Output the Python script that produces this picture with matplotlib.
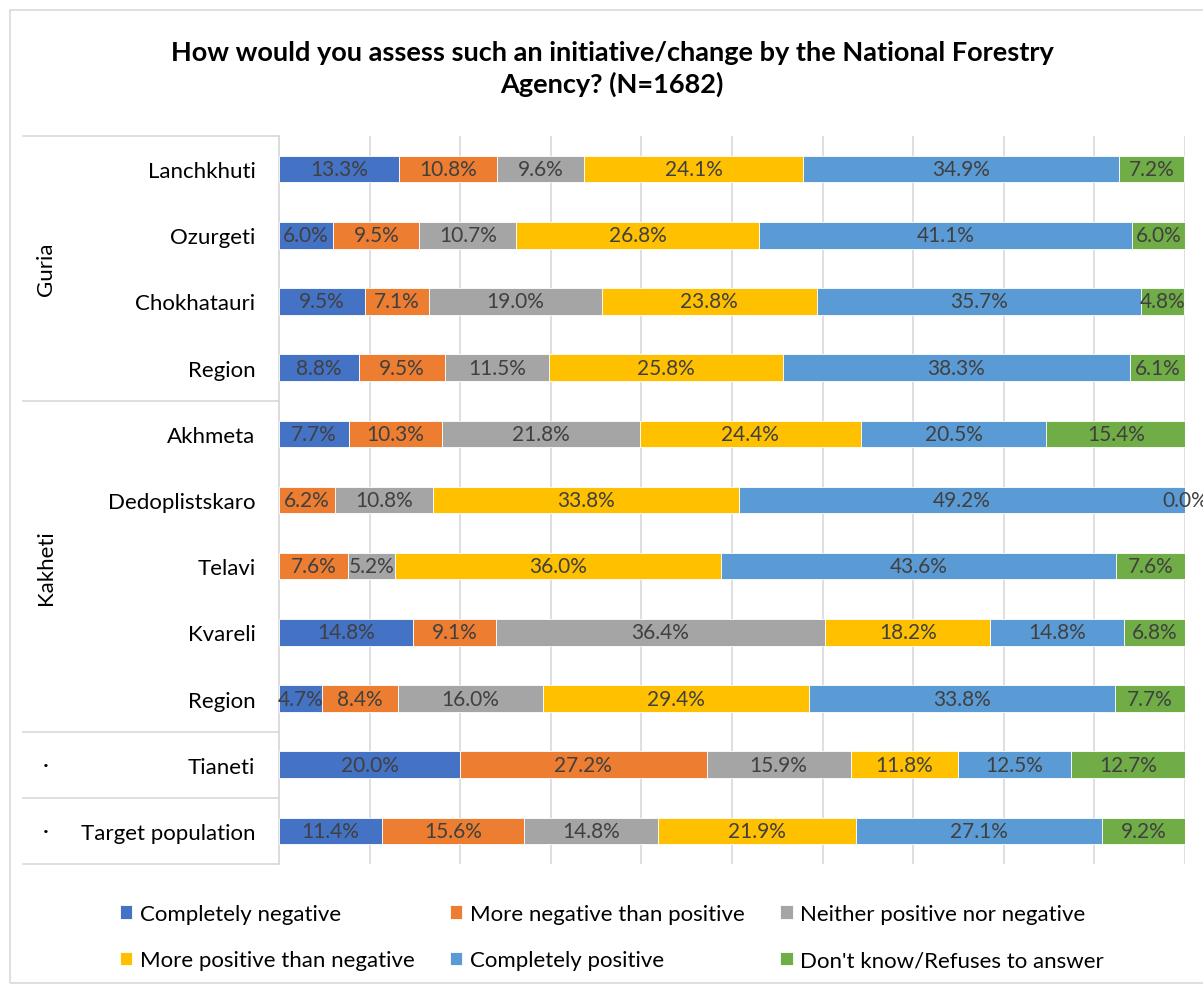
import matplotlib.pyplot as plt
from matplotlib.patches import Rectangle
import numpy as np

plt.rcParams['font.family'] = ['Lato', 'DejaVu Sans']

# categories (top to bottom)
places = ['Lanchkhuti', 'Ozurgeti', 'Chokhatauri', 'Region',
          'Akhmeta', 'Dedoplistskaro', 'Telavi', 'Kvareli', 'Region',
          'Tianeti', 'Target population']
groups = [('Guria', 0, 3), ('Kakheti', 4, 8), ('·', 9, 9), ('·', 10, 10)]

answers = ['Completely negative', 'More negative than positive',
           'Neither positive nor negative', 'More positive than negative',
           'Completely positive', "Don't know/Refuses to answer"]
colors = ['#4472C4', '#ED7D31', '#A5A5A5', '#FFC000', '#5B9BD5', '#70AD47']

# None = no value (no bar, no label)
completely_negative = [13.3, 6.0, 9.5, 8.8, 7.7, None, None, 14.8, 4.7, 20.0, 11.4]
more_negative = [10.8, 9.5, 7.1, 9.5, 10.3, 6.2, 7.6, 9.1, 8.4, 27.2, 15.6]
neither = [9.6, 10.7, 19.0, 11.5, 21.8, 10.8, 5.2, 36.4, 16.0, 15.9, 14.8]
more_positive = [24.1, 26.8, 23.8, 25.8, 24.4, 33.8, 36.0, 18.2, 29.4, 11.8, 21.9]
completely_positive = [34.9, 41.1, 35.7, 38.3, 20.5, 49.2, 43.6, 14.8, 33.8, 12.5, 27.1]
dont_know = [7.2, 6.0, 4.8, 6.1, 15.4, 0.0, 7.6, 6.8, 7.7, 12.7, 9.2]

series = [completely_negative, more_negative, neither,
          more_positive, completely_positive, dont_know]

fig = plt.figure(figsize=(12.03, 9.87), dpi=100)
W, H = 1203, 987

# outer chart border
fig.patches.append(Rectangle((10 / W, 3 / H), 1.2, (H - 14) / H,
                             transform=fig.transFigure, fill=False,
                             edgecolor='#d9d9d9', linewidth=1.2))

ax = fig.add_axes([279 / W, 1 - 865 / H, 906 / W, 728 / H])

y = np.arange(len(places))
left = np.zeros(len(places))
for vals, name, col in zip(series, answers, colors):
    widths = np.array([v if v is not None else 0 for v in vals])
    ax.barh(y, widths, left=left, height=0.4, color=col, label=name,
            edgecolor='white', linewidth=0.6, zorder=3)
    for i, v in enumerate(vals):
        if v is None:
            continue
        ax.text(left[i] + widths[i] / 2, y[i], f'{v:.1f}%', ha='center',
                va='center', fontsize=15, color='#404040', zorder=4)
    left += widths

ax.set_xlim(0, 100)
ax.set_ylim(len(places) - 0.5, -0.5)
ax.set_xticks(np.arange(0, 101, 10))
ax.set_xticklabels([])
ax.tick_params(axis='x', length=0)
ax.grid(axis='x', color='#d9d9d9', linewidth=1.2, zorder=0)
ax.set_yticks(y)
ax.set_yticklabels(places, fontsize=16)
ax.tick_params(axis='y', length=0, pad=17)
for s in ['top', 'right', 'bottom']:
    ax.spines[s].set_visible(False)
ax.spines['left'].set_color('#d9d9d9')
ax.spines['left'].set_linewidth(1.2)

# group table on the left
tr = ax.get_yaxis_transform()
x0 = (23 - 279) / 906
for b in [-0.5, 3.5, 8.5, 9.5, 10.5]:
    ax.plot([x0, 0], [b, b], transform=tr, color='#d9d9d9', lw=1.2,
            clip_on=False)
for name, a, b in groups:
    ax.text((46 - 279) / 906, (a + b) / 2, name, transform=tr,
            rotation=90 if name != '·' else 0, ha='center', va='center',
            fontsize=16)

fig.text(612 / W, 1 - 69 / H,
         'How would you assess such an initiative/change by the National Forestry\nAgency? (N=1682)',
         ha='center', va='center', fontsize=19.5, fontweight='bold',
         linespacing=1.3)

h, l = ax.get_legend_handles_labels()
order = [0, 3, 1, 4, 2, 5]
fig.legend([h[i] for i in order], [l[i] for i in order], ncol=3,
           loc='center', bbox_to_anchor=(612 / W, 1 - 938 / H),
           frameon=False, fontsize=16, handlelength=0.55, handleheight=0.55,
           handletextpad=0.35, columnspacing=1.6, labelspacing=1.2)

fig.savefig('out.png', dpi=100)
